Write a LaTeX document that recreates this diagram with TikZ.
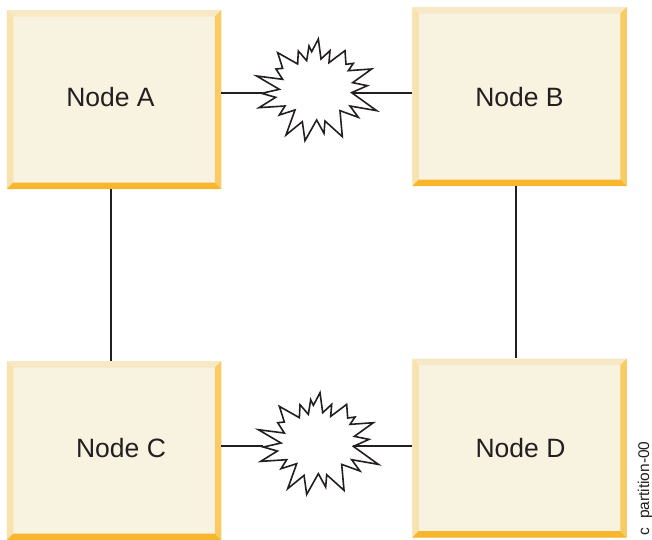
\documentclass[tikz,border=0pt]{standalone}
\usepackage{fontspec}
\setmainfont{Liberation Sans}
\definecolor{inkdark}{HTML}{231F20}
\definecolor{panelface}{HTML}{F8F2E0}
\definecolor{paneltop}{HTML}{F7E8C6}
\definecolor{panelleft}{HTML}{F8E3AE}
\definecolor{panelright}{HTML}{F9CB62}
\definecolor{panelbottom}{HTML}{F8B62D}
\newcommand{\bevelw}{6.5pt}
\tikzset{
  panel/.style={rectangle, inner sep=0pt, minimum width=214.5pt, minimum height=179pt,
    fill=panelface, text=inkdark, font=\fontsize{26.5}{30}\selectfont,
    path picture={
      \coordinate (nw) at (path picture bounding box.north west);
      \coordinate (ne) at (path picture bounding box.north east);
      \coordinate (sw) at (path picture bounding box.south west);
      \coordinate (se) at (path picture bounding box.south east);
      \fill[paneltop] (nw) -- (ne) -- ([shift={(-\bevelw,-\bevelw)}]ne) -- ([shift={(\bevelw,-\bevelw)}]nw) -- cycle;
      \fill[panelleft] (nw) -- (sw) -- ([shift={(\bevelw,\bevelw)}]sw) -- ([shift={(\bevelw,-\bevelw)}]nw) -- cycle;
      \fill[panelright] (ne) -- (se) -- ([shift={(-\bevelw,\bevelw)}]se) -- ([shift={(-\bevelw,-\bevelw)}]ne) -- cycle;
      \fill[panelbottom] (sw) -- (se) -- ([shift={(-\bevelw,\bevelw)}]se) -- ([shift={(\bevelw,\bevelw)}]sw) -- cycle;
    }},
  wire/.style={draw=inkdark, line width=2.2pt},
  burst/.pic={
    \begin{scope}[x=0.3333pt, y=-0.3333pt]
      \draw[draw=inkdark, line width=1.6pt, miter limit=10]
        (325,57) -- (333,117) -- (360,92) -- (357,128) -- (405,92) -- (408,133)
        -- (430,130) -- (415,152) -- (485,147) -- (428,188) -- (472,197) -- (425,218)
        -- (500,272) -- (420,258) -- (445,292) -- (390,272) -- (397,350) -- (345,303)
        -- (342,340) -- (320,300) -- (285,362) -- (277,305) -- (228,345) -- (255,270)
        -- (208,285) -- (225,258) -- (147,263) -- (197,232) -- (155,220) -- (208,208)
        -- (140,168) -- (218,178) -- (198,147) -- (218,145) -- (203,98) -- (263,132)
        -- (265,93) -- (290,122) -- (297,78) -- (305,95) -- cycle;
      \coordinate (-west) at (155,218);
      \coordinate (-east) at (425,218);
    \end{scope}
  }
}
\begin{document}
\begin{tikzpicture}[x=1pt, y=-1pt]
  \useasboundingbox (0,0) rectangle (652,539);

  \node[panel] (nodeA) at (114,99.5) {\hspace*{-7pt}\raisebox{5pt}{Node A}};
  \node[panel] (nodeB) at (519.5,96.5) {\raisebox{0pt}[\dimexpr\height+2pt\relax]{Node B}};
  \node[panel] (nodeC) at (114,450.5) {\hspace*{14pt}\raisebox{5pt}{Node C}};
  \node[panel] (nodeD) at (519.5,448) {\hspace*{2pt}Node D};

  \pic (burstA) at (210,20) {burst};
  \pic (burstB) at (211.7,373.7) {burst};

  \draw[wire] (nodeA.east |- burstA-west) -- (burstA-west);
  \draw[wire] (nodeB.west |- burstA-east) -- (burstA-east);
  \draw[wire] (nodeC.east |- burstB-west) -- (burstB-west);
  \draw[wire] (nodeD.west |- burstB-east) -- (burstB-east);
  \draw[wire] ([xshift=-3pt]nodeA.south) -- ([xshift=-3pt]nodeC.north);
  \draw[wire] ([xshift=-3.5pt]nodeB.south) -- ([xshift=-3.5pt]nodeD.north);

  \node[rotate=90, inner sep=0pt, text=inkdark, font=\fontsize{15.5}{18}\selectfont] (figlabel) at (645,488.5) {c\hspace{9pt}partition-00};
\end{tikzpicture}
\end{document}
